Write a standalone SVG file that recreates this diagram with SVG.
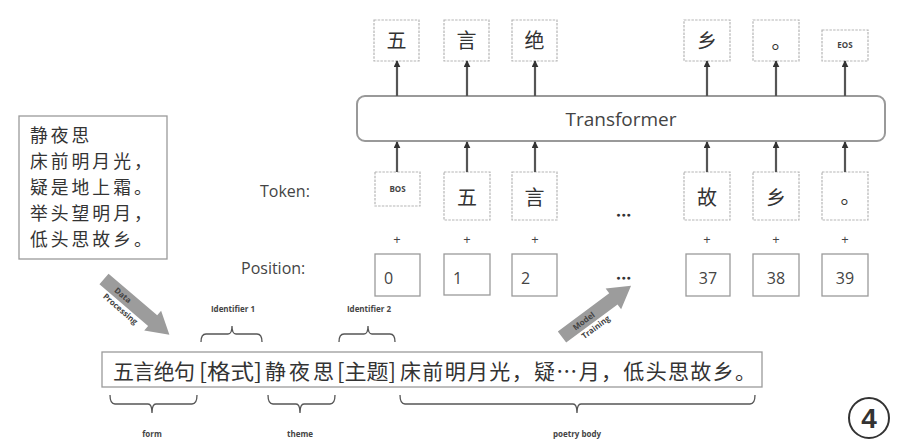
<svg xmlns="http://www.w3.org/2000/svg" width="913" height="447" viewBox="0 0 913 447">
<defs>
<style>
.bx{fill:#fff;stroke:#b5b5b5;stroke-width:1.2;stroke-dasharray:2.5 1.2}
.pb{fill:#fff;stroke:#9a9a9a;stroke-width:1.3}
.cjk{font-family:"Noto Sans CJK SC","Noto Sans CJK JP",sans-serif;fill:#333}
.pm{font-family:"Noto Sans CJK SC","Noto Sans CJK JP",sans-serif;fill:#333;font-size:17.8px;letter-spacing:3px}
.lat{font-family:"Open Sans","Liberation Sans",sans-serif;fill:#444}
.sm{font-family:"Open Sans","Liberation Sans",sans-serif;fill:#444;font-weight:bold;font-size:8px;text-anchor:middle}
.ar{stroke:#555;stroke-width:2.2;fill:none;marker-end:url(#ah)}
.br{stroke:#555;stroke-width:1.3;fill:none}
.big{fill:#9c9c9c}
.dots{font-family:"Liberation Sans",sans-serif;font-size:7px;letter-spacing:1px;text-anchor:middle;fill:#333}
</style>
<marker id="ah" viewBox="0 0 10 10" refX="9" refY="5" markerWidth="7" markerHeight="7" markerUnits="userSpaceOnUse" orient="auto">
<path d="M0,0 L10,5 L0,10 z" fill="#333"/>
</marker>
</defs>
<rect width="913" height="447" fill="#fff"/>

<g id="poem">
<rect class="pb" x="19" y="116" width="148" height="143"/>
<text class="pm" x="30" y="142">静夜思</text>
<text class="pm" x="30" y="168">床前明月光，</text>
<text class="pm" x="30" y="194">疑是地上霜。</text>
<text class="pm" x="30" y="220">举头望明月，</text>
<text class="pm" x="30" y="246">低头思故乡。</text>
</g>

<g id="transformer">
<rect x="357" y="96" width="528" height="45" rx="8" fill="#fff" stroke="#999" stroke-width="2"/>
<text class="lat" x="621" y="126" font-size="19" text-anchor="middle" fill="#333">Transformer</text>
</g>

<g id="outputs">
<g id="out1"><rect class="bx" x="374" y="20" width="45" height="41"/><text class="cjk" x="396.5" y="48" font-size="20" text-anchor="middle">五</text></g>
<g id="out2"><rect class="bx" x="444" y="20" width="45" height="41"/><text class="cjk" x="466.5" y="48" font-size="20" text-anchor="middle">言</text></g>
<g id="out3"><rect class="bx" x="512" y="20" width="45" height="41"/><text class="cjk" x="534.5" y="48" font-size="20" text-anchor="middle">绝</text></g>
<g id="out4"><rect class="bx" x="684" y="20" width="46" height="41"/><text class="cjk" x="707" y="48" font-size="20" text-anchor="middle">乡</text></g>
<g id="out5"><rect class="bx" x="753" y="20" width="46" height="41"/><text class="cjk" x="771.5" y="49" font-size="20">。</text></g>
<g id="out6"><rect class="bx" x="822" y="30" width="46" height="31"/><text class="sm" x="845" y="48" font-size="7">EOS</text></g>
</g>

<g id="tokens">
<text class="lat" x="260" y="197" font-size="16">Token:</text>
<g id="tok1"><rect class="bx" x="375" y="172" width="45" height="34"/><text class="sm" x="397.5" y="192" font-size="7">BOS</text></g>
<g id="tok2"><rect class="bx" x="444" y="172" width="46" height="48"/><text class="cjk" x="467" y="205" font-size="20" text-anchor="middle">五</text></g>
<g id="tok3"><rect class="bx" x="512" y="172" width="45" height="48"/><text class="cjk" x="534.5" y="205" font-size="20" text-anchor="middle">言</text></g>
<g id="tok4"><rect class="bx" x="684" y="172" width="46" height="48"/><text class="cjk" x="707" y="205" font-size="20" text-anchor="middle">故</text></g>
<g id="tok5"><rect class="bx" x="753" y="172" width="46" height="48"/><text class="cjk" x="776" y="205" font-size="20" text-anchor="middle">乡</text></g>
<g id="tok6"><rect class="bx" x="822" y="172" width="46" height="48"/><text class="cjk" x="840.5" y="204" font-size="20">。</text></g>
<text class="dots" x="624" y="217">●●●</text>
</g>

<g id="plus" class="lat" font-size="13" text-anchor="middle" fill="#555">
<text x="397" y="244">+</text><text x="467" y="244">+</text><text x="535" y="244">+</text>
<text x="707" y="244">+</text><text x="776" y="244">+</text><text x="845" y="244">+</text>
</g>

<g id="positions">
<text class="lat" x="241" y="274" font-size="16">Position:</text>
<g id="pos0"><rect class="pb" x="375" y="254" width="45" height="42"/><text class="lat" x="384" y="284" font-size="16">0</text></g>
<g id="pos1"><rect class="pb" x="444" y="254" width="46" height="41"/><text class="lat" x="453" y="284" font-size="16">1</text></g>
<g id="pos2"><rect class="pb" x="512" y="254" width="45" height="42"/><text class="lat" x="521" y="284" font-size="16">2</text></g>
<g id="pos37"><rect class="pb" x="686" y="254" width="44" height="42"/><text class="lat" x="708" y="284" font-size="16" text-anchor="middle">37</text></g>
<g id="pos38"><rect class="pb" x="753" y="254" width="46" height="42"/><text class="lat" x="776" y="284" font-size="16" text-anchor="middle">38</text></g>
<g id="pos39"><rect class="pb" x="822" y="254" width="46" height="42"/><text class="lat" x="845" y="284" font-size="16" text-anchor="middle">39</text></g>
<text class="dots" x="624" y="280">●●●</text>
</g>

<g id="connectors">
<line class="ar" x1="397" y1="96" x2="397" y2="61"/>
<line class="ar" x1="467" y1="96" x2="467" y2="61"/>
<line class="ar" x1="535" y1="96" x2="535" y2="61"/>
<line class="ar" x1="707" y1="96" x2="707" y2="61"/>
<line class="ar" x1="776" y1="96" x2="776" y2="61"/>
<line class="ar" x1="845" y1="96" x2="845" y2="61"/>
<line class="ar" x1="397" y1="172" x2="397" y2="142"/>
<line class="ar" x1="467" y1="172" x2="467" y2="142"/>
<line class="ar" x1="535" y1="172" x2="535" y2="142"/>
<line class="ar" x1="707" y1="172" x2="707" y2="142"/>
<line class="ar" x1="776" y1="172" x2="776" y2="142"/>
<line class="ar" x1="845" y1="172" x2="845" y2="142"/>
</g>

<g id="data-processing" transform="translate(104,279) rotate(40.5)">
<polygon class="big" points="0,-7 64,-7 64,-13 86,0 64,13 64,7 0,7"/>
<text class="sm" x="25" y="3" font-size="7" fill="#333">Data</text>
<text class="sm" x="32" y="15" font-size="7" fill="#333">Processing</text>
</g>

<g id="model-training" transform="translate(562,337) rotate(-36.6)">
<polygon class="big" points="0,-7 64,-7 64,-13 86,0 64,13 64,7 0,7"/>
<text class="sm" x="27" y="3" font-size="7" fill="#333">Model</text>
<text class="sm" x="33" y="15" font-size="7" fill="#333">Training</text>
</g>

<g id="sequence">
<rect class="pb" x="102" y="352" width="660" height="35" stroke-width="1.6"/>
<text class="cjk" y="379" font-size="21"><tspan x="113" textLength="82" lengthAdjust="spacing">五言绝句</tspan><tspan x="199" textLength="63" lengthAdjust="spacingAndGlyphs">[格式]</tspan><tspan x="265" textLength="69" lengthAdjust="spacing">静夜思</tspan><tspan x="337" textLength="59" lengthAdjust="spacingAndGlyphs">[主题]</tspan><tspan x="400" textLength="356" lengthAdjust="spacing">床前明月光，疑…月，低头思故乡。</tspan></text>
</g>

<g id="identifier1">
<path class="br" d="M201,342 Q201,334 206,334 L228,334 Q232,334 232,326 Q232,334 236,334 L257,334 Q262,334 262,342"/>
<text class="sm" x="233" y="312">Identifier 1</text>
</g>
<g id="identifier2">
<path class="br" d="M339,342 Q339,334 344,334 L364,334 Q368,334 368,326 Q368,334 372,334 L390,334 Q395,334 395,342"/>
<text class="sm" x="369" y="312">Identifier 2</text>
</g>
<g id="form">
<path class="br" d="M110,395 Q110,404 115,404 L148,404 Q152,404 152,413 Q152,404 156,404 L192,404 Q197,404 197,395"/>
<text class="sm" x="152" y="437">form</text>
</g>
<g id="theme">
<path class="br" d="M268,395 Q268,404 273,404 L296,404 Q300,404 300,413 Q300,404 304,404 L330,404 Q335,404 335,395"/>
<text class="sm" x="300" y="437">theme</text>
</g>
<g id="poetry-body">
<path class="br" d="M400,395 Q400,404 405,404 L573,404 Q577,404 577,413 Q577,404 581,404 L750,404 Q755,404 755,395"/>
<text class="sm" x="577" y="437">poetry body</text>
</g>

<g id="label4">
<circle cx="869" cy="418" r="20" fill="#fff" stroke="#333" stroke-width="2"/>
<text x="869" y="428" font-size="28" font-weight="bold" text-anchor="middle" font-family="Liberation Sans, sans-serif" fill="#333">4</text>
</g>
</svg>
